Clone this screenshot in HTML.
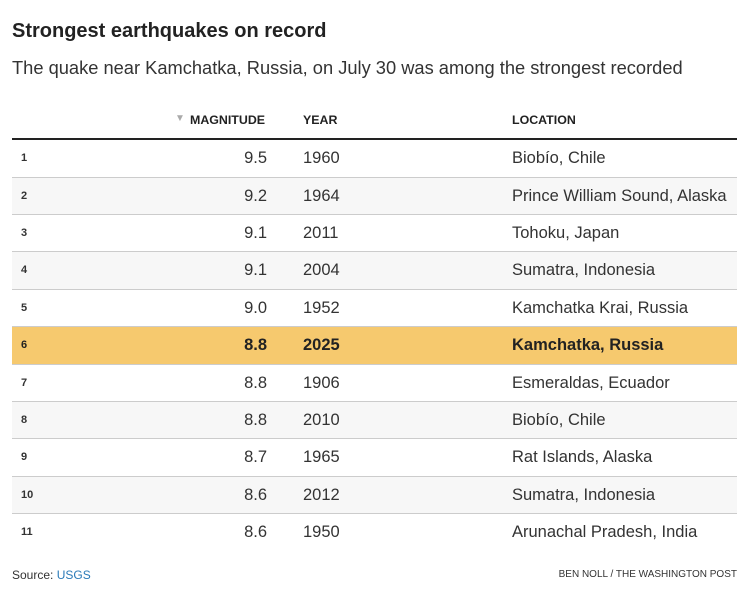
<!DOCTYPE html>
<html><head><style>
body{margin:0;width:746px;height:610px;background:#fff;font-family:"Liberation Sans",sans-serif;color:#222;position:relative;overflow:hidden}
.a{position:absolute;white-space:nowrap}
.row{position:absolute;left:12px;width:725px;height:37px;box-sizing:border-box;border-bottom:1px solid #ccc}
.row span{position:absolute;top:9px;font-size:16.5px;color:#333}
.r{left:9px;font-size:11px!important;font-weight:bold;top:12px!important}
.m{right:470px;text-align:right}
.y{left:291px}
.l{left:500px}
.hl{background:#f6c96e}
.hl span{font-weight:bold;color:#222}
.g{background:#f7f7f7}
</style></head><body>
<div class="a" style="left:12px;top:20px;font-size:20px;font-weight:bold;color:#222">Strongest earthquakes on record</div>
<div class="a" style="left:12px;top:57px;font-size:18.3px;color:#333">The quake near Kamchatka, Russia, on July 30 was among the strongest recorded</div>
<div class="a" style="left:175px;top:113px;font-size:10px;color:#aaa">▼</div>
<div class="a" style="left:190px;top:113px;font-size:12.4px;font-weight:bold">MAGNITUDE</div>
<div class="a" style="left:303px;top:113px;font-size:12.4px;font-weight:bold">YEAR</div>
<div class="a" style="left:512px;top:113px;font-size:12.4px;font-weight:bold">LOCATION</div>
<div class="a" style="left:12px;top:138px;width:725px;height:2px;background:#222"></div>
<div class="row" style="top:140px;height:38px"><span class="r">1</span><span class="m">9.5</span><span class="y">1960</span><span class="l">Biobío, Chile</span></div>
<div class="row g" style="top:178px"><span class="r">2</span><span class="m">9.2</span><span class="y">1964</span><span class="l">Prince William Sound, Alaska</span></div>
<div class="row" style="top:215px"><span class="r">3</span><span class="m">9.1</span><span class="y">2011</span><span class="l">Tohoku, Japan</span></div>
<div class="row g" style="top:252px;height:38px"><span class="r">4</span><span class="m">9.1</span><span class="y">2004</span><span class="l">Sumatra, Indonesia</span></div>
<div class="row" style="top:290px"><span class="r">5</span><span class="m">9.0</span><span class="y">1952</span><span class="l">Kamchatka Krai, Russia</span></div>
<div class="row hl" style="top:327px;height:38px"><span class="r">6</span><span class="m">8.8</span><span class="y">2025</span><span class="l">Kamchatka, Russia</span></div>
<div class="row" style="top:365px"><span class="r">7</span><span class="m">8.8</span><span class="y">1906</span><span class="l">Esmeraldas, Ecuador</span></div>
<div class="row g" style="top:402px"><span class="r">8</span><span class="m">8.8</span><span class="y">2010</span><span class="l">Biobío, Chile</span></div>
<div class="row" style="top:439px;height:38px"><span class="r">9</span><span class="m">8.7</span><span class="y">1965</span><span class="l">Rat Islands, Alaska</span></div>
<div class="row g" style="top:477px"><span class="r">10</span><span class="m">8.6</span><span class="y">2012</span><span class="l">Sumatra, Indonesia</span></div>
<div class="row" style="top:514px;border-bottom:none"><span class="r">11</span><span class="m">8.6</span><span class="y">1950</span><span class="l">Arunachal Pradesh, India</span></div>
<div class="a" style="left:12px;top:568px;font-size:12px;color:#333">Source: <span style="color:#2a7ab8">USGS</span></div>
<div class="a" style="right:9px;top:569px;font-size:10px;color:#333">BEN NOLL / THE WASHINGTON POST</div>
</body></html>
